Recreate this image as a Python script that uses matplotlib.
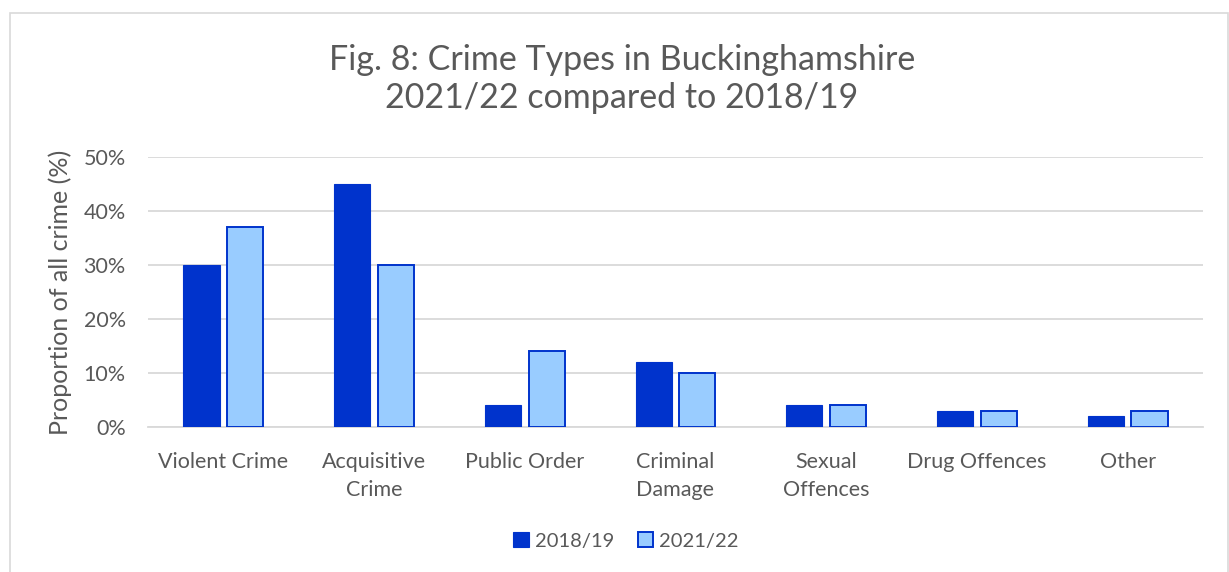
import matplotlib.pyplot as plt
import numpy as np
from matplotlib.patches import Rectangle

# Crime type shares (% of all crime)
categories = ["Violent Crime", "Acquisitive\nCrime", "Public Order", "Criminal\nDamage",
              "Sexual\nOffences", "Drug Offences", "Other"]
share_1819 = [30, 45, 4, 12, 4, 3, 2]
share_2122 = [37, 30, 14, 10, 4, 3, 3]
series_labels = ["2018/19", "2021/22"]

DARK = "#0033CC"
LIGHT = "#99CCFF"
TEXT = "#595959"
GRID = "#D9D9D9"

plt.rcParams["font.family"] = ["Lato", "DejaVu Sans"]

W, H = 1229, 572
fig = plt.figure(figsize=(W / 100, H / 100), dpi=100)

# outer chart frame (bottom edge runs off the canvas)
fig.patches.append(Rectangle((10 / W, -0.05), (W - 11) / W, 1.05 - 13 / H, transform=fig.transFigure,
                             fill=False, edgecolor=GRID, linewidth=1.2))

ax = fig.add_axes([148 / W, 1 - 427 / H, (1203 - 148) / W, (427 - 157) / H])

x = np.arange(len(categories))
width = 0.24
ax.bar(x - 0.145, share_1819, width, color=DARK, edgecolor=DARK, linewidth=0.8,
       label=series_labels[0], zorder=3)
ax.bar(x + 0.145, share_2122, width, color=LIGHT, edgecolor=DARK, linewidth=1.4,
       label=series_labels[1], zorder=3)

ax.set_xlim(-0.5, len(categories) - 0.5)
ax.set_ylim(0, 50)
ax.set_yticks(range(0, 51, 10))
ax.set_yticklabels([f"{v}%" for v in range(0, 51, 10)])
ax.yaxis.grid(True, color=GRID, linewidth=1.3, zorder=0)
ax.set_xticks(x)
ax.set_xticklabels(categories, linespacing=1.5, va="top")
ax.tick_params(axis="both", length=0, colors=TEXT, labelsize=15.5)
ax.tick_params(axis="x", pad=18)
ax.tick_params(axis="y", pad=16)
for side in ["top", "right", "left"]:
    ax.spines[side].set_visible(False)
ax.spines["bottom"].set_color(GRID)
ax.spines["bottom"].set_linewidth(1.3)

ax.set_ylabel("Proportion of all crime (%)", fontsize=18, color=TEXT, labelpad=8)

fig.text(622 / W, 1 - 79 / H, "Fig. 8: Crime Types in Buckinghamshire\n2021/22 compared to 2018/19",
         ha="center", va="center", fontsize=24.5, color=TEXT, linespacing=1.25)

fig.legend(loc="center", bbox_to_anchor=(626 / W, 1 - 541 / H), ncol=2, frameon=False,
           fontsize=14.5, labelcolor=TEXT, handlelength=0.75, handleheight=0.75,
           handletextpad=0.3, columnspacing=1.2)

fig.savefig("out.png", dpi=100, facecolor="white")
